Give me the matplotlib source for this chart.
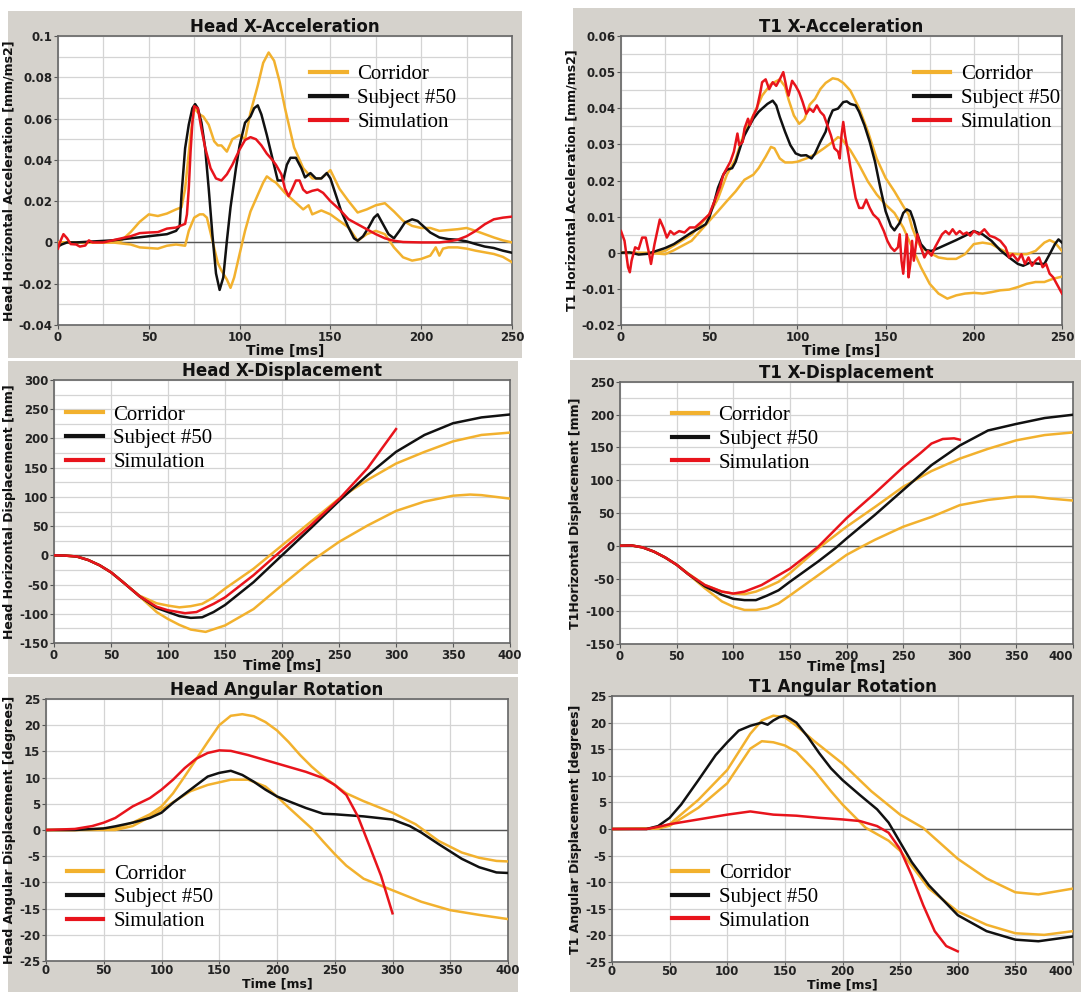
import numpy as np
import matplotlib
matplotlib.use('Agg')
import matplotlib.pyplot as plt
from matplotlib.patches import Rectangle
from matplotlib.lines import Line2D
from matplotlib.ticker import MultipleLocator, FuncFormatter

# ---------------- DATA (time [ms], value) ----------------
labels = ["Corridor", "Subject #50", "Simulation"]

# Head X-Acceleration [mm/ms2]
hxa_up = [(0,0),(10,0),(20,0),(30,0),(35,0.001),(40,0.005),(45,0.01),(50,0.0136),(55,0.0128),(60,0.014),(65,0.016),(68,0.017),(70,0.026),(73,0.052),(75,0.065),(78,0.062),(80,0.061),(83,0.057),(86,0.049),(88,0.047),(90,0.047),(93,0.044),(96,0.05),(100,0.052),(103,0.05),(106,0.063),(110,0.076),(113,0.087),(116,0.092),(119,0.088),(122,0.078),(125,0.065),(130,0.046),(135,0.036),(140,0.031),(145,0.031),(150,0.035),(155,0.026),(160,0.02),(165,0.0145),(170,0.016),(175,0.018),(180,0.019),(185,0.015),(190,0.0105),(195,0.008),(200,0.007),(205,0.007),(210,0.0056),(215,0.006),(220,0.0064),(225,0.007),(230,0.0056),(235,0.004),(240,0.0024),(245,0.001),(250,0.0)]
hxa_lo = [(0,0),(10,0),(20,0),(30,0),(40,-0.001),(45,-0.0024),(50,-0.0027),(55,-0.003),(60,-0.0016),(65,-0.001),(70,-0.0016),(72,0.0056),(75,0.012),(78,0.0136),(80,0.0136),(82,0.012),(85,0.001),(88,-0.010),(90,-0.0136),(93,-0.018),(95,-0.022),(97,-0.017),(100,-0.0056),(103,0.0056),(106,0.015),(110,0.023),(113,0.029),(115,0.032),(118,0.030),(120,0.029),(125,0.024),(130,0.02),(135,0.016),(138,0.018),(140,0.0136),(145,0.0155),(150,0.0136),(155,0.0104),(160,0.0072),(165,0.0008),(170,0.004),(175,0.0056),(180,0.004),(185,-0.0024),(190,-0.0072),(195,-0.0088),(200,-0.008),(205,-0.0064),(208,-0.0024),(210,-0.0064),(212,-0.003),(215,-0.0024),(220,-0.0024),(225,-0.003),(230,-0.004),(235,-0.0048),(240,-0.0056),(245,-0.007),(250,-0.0096)]
hxa_sub = [(0,-0.002),(2,-0.001),(5,0.0),(10,0.0),(20,0.0005),(30,0.001),(40,0.002),(50,0.003),(60,0.004),(65,0.0056),(67,0.008),(68,0.023),(70,0.0456),(72,0.057),(74,0.065),(75.5,0.067),(77,0.065),(79,0.058),(81,0.046),(83,0.026),(85,0.004),(87,-0.015),(89,-0.023),(91,-0.017),(93,0.0008),(95,0.017),(98,0.036),(100,0.047),(103,0.058),(106,0.061),(108,0.065),(110,0.0664),(112,0.062),(115,0.052),(118,0.041),(121,0.030),(124,0.030),(126,0.0376),(128,0.041),(131,0.041),(134,0.036),(136,0.0315),(139,0.0336),(142,0.031),(145,0.031),(148,0.0336),(150,0.031),(153,0.023),(156,0.015),(160,0.0072),(163,0.002),(165,0.0008),(168,0.003),(171,0.0072),(174,0.012),(176,0.0136),(179,0.0088),(182,0.004),(185,0.002),(188,0.0056),(191,0.0096),(195,0.0112),(198,0.0104),(201,0.008),(205,0.0048),(210,0.0024),(215,0.0016),(220,0.0013),(225,0.0005),(230,-0.0008),(235,-0.002),(240,-0.0027),(245,-0.004),(250,-0.005)]
hxa_sim = [(0,-0.003),(1,0.0),(3,0.004),(5,0.002),(7,-0.0008),(10,-0.001),(12,-0.002),(15,-0.0015),(17,0.001),(19,0.0),(22,0.0),(25,0.0),(30,0.001),(35,0.002),(40,0.003),(45,0.0045),(50,0.0048),(55,0.005),(60,0.0067),(65,0.0072),(70,0.009),(71,0.0136),(72,0.026),(73,0.044),(74,0.058),(75,0.066),(77,0.065),(79,0.055),(81,0.046),(84,0.036),(87,0.031),(90,0.030),(93,0.033),(96,0.0376),(100,0.045),(103,0.0496),(106,0.051),(109,0.050),(112,0.047),(115,0.043),(118,0.040),(120,0.0376),(123,0.033),(125,0.026),(127,0.0224),(129,0.026),(131,0.030),(133,0.030),(135,0.0256),(137,0.024),(140,0.025),(143,0.0256),(146,0.024),(150,0.02),(155,0.016),(160,0.0112),(165,0.0088),(170,0.0064),(175,0.004),(180,0.002),(185,0.0008),(190,0.0002),(200,0.0),(210,0.0),(215,0.0005),(220,0.0013),(225,0.003),(230,0.0056),(235,0.0088),(240,0.0112),(245,0.012),(250,0.0125)]

# T1 X-Acceleration [mm/ms2]
t1a_up = [(0,0.0),(10,0.0),(20,0.0),(25,0.0005),(30,0.002),(40,0.005),(50,0.0106),(55,0.015),(60,0.0216),(65,0.026),(70,0.0335),(75,0.038),(80,0.0435),(85,0.0467),(90,0.048),(93,0.046),(95,0.0424),(98,0.038),(101,0.0357),(104,0.037),(107,0.041),(110,0.0426),(113,0.0453),(116,0.047),(120,0.0483),(123,0.048),(126,0.047),(130,0.0449),(135,0.040),(140,0.0335),(145,0.026),(150,0.0207),(155,0.017),(160,0.0129),(163,0.0106),(165,0.007),(168,0.0033),(170,0.0015),(175,0.0),(180,-0.0013),(185,-0.0017),(190,-0.0017),(195,-0.0004),(200,0.0024),(205,0.0028),(210,0.0024),(215,0.001),(220,-0.0002),(225,-0.0004),(230,-0.0004),(235,0.0005),(240,0.0028),(243,0.0035),(246,0.0028),(250,0.0005)]
t1a_lo = [(0,0.0),(20,-0.0002),(25,-0.0004),(30,0.0007),(40,0.0033),(50,0.0088),(55,0.0115),(60,0.0143),(65,0.017),(70,0.0202),(75,0.0216),(78,0.0234),(82,0.0266),(85,0.0293),(87,0.0289),(90,0.0261),(93,0.025),(97,0.025),(100,0.0252),(105,0.0261),(110,0.0272),(115,0.0289),(120,0.0307),(123,0.032),(125,0.0316),(130,0.0284),(135,0.0243),(140,0.0197),(145,0.0161),(150,0.0133),(155,0.011),(160,0.007),(165,0.0015),(170,-0.004),(175,-0.0086),(180,-0.0113),(185,-0.0127),(190,-0.0118),(195,-0.0113),(200,-0.0111),(205,-0.0113),(210,-0.0109),(215,-0.0104),(220,-0.0102),(225,-0.0095),(230,-0.0086),(235,-0.0081),(240,-0.0081),(245,-0.0072),(250,-0.0066)]
t1a_sub = [(0,0.0),(5,0.0001),(10,-0.0005),(15,-0.0003),(20,0.0005),(25,0.0013),(30,0.0024),(35,0.004),(40,0.0056),(45,0.007),(48,0.0079),(50,0.0097),(53,0.0143),(55,0.018),(58,0.0216),(60,0.023),(63,0.0234),(65,0.0252),(68,0.0298),(70,0.0325),(73,0.0353),(75,0.0371),(78,0.039),(80,0.0399),(83,0.0412),(86,0.0421),(88,0.0408),(90,0.0376),(93,0.0335),(96,0.0298),(99,0.0275),(102,0.0269),(105,0.027),(108,0.0261),(110,0.0275),(113,0.0307),(116,0.0335),(118,0.0371),(120,0.0394),(123,0.0399),(126,0.0417),(128,0.0419),(130,0.0412),(133,0.0408),(135,0.039),(138,0.0353),(141,0.0307),(144,0.0252),(147,0.018),(150,0.0115),(153,0.0074),(155,0.0062),(158,0.0083),(160,0.011),(162,0.012),(164,0.0115),(166,0.0088),(168,0.0051),(170,0.0024),(173,0.0007),(176,0.0005),(180,0.0013),(185,0.0024),(190,0.0035),(195,0.0047),(200,0.006),(205,0.0051),(210,0.0033),(215,0.0007),(220,-0.0013),(225,-0.0031),(228,-0.0036),(232,-0.0027),(236,-0.003),(240,-0.0031),(243,-0.0004),(246,0.0024),(248,0.0037),(250,0.0028)]
t1a_sim = [(0,0.006),(2,0.0033),(4,-0.004),(5,-0.0054),(6,-0.0022),(8,0.0015),(10,0.001),(12,0.0042),(14,0.0042),(16,-0.0004),(17,-0.0031),(19,0.0024),(21,0.007),(22,0.0092),(24,0.007),(26,0.0042),(28,0.006),(30,0.0051),(33,0.006),(36,0.0056),(39,0.007),(42,0.007),(45,0.0083),(48,0.0097),(50,0.0106),(53,0.0143),(56,0.018),(58,0.0216),(60,0.0234),(62,0.0252),(64,0.028),(66,0.033),(67,0.0298),(69,0.0307),(70,0.0344),(72,0.0371),(73,0.0353),(75,0.038),(77,0.0399),(79,0.0444),(80,0.0472),(82,0.048),(84,0.0453),(86,0.0472),(88,0.0462),(90,0.048),(92,0.050),(94,0.0453),(95,0.0435),(97,0.0476),(99,0.0462),(101,0.0444),(103,0.0417),(105,0.0385),(107,0.0399),(109,0.039),(111,0.0408),(113,0.039),(115,0.038),(117,0.0353),(119,0.0325),(121,0.0289),(123,0.028),(124,0.0261),(125,0.0325),(126,0.0362),(127,0.0325),(129,0.027),(131,0.0207),(133,0.0152),(135,0.0124),(137,0.0124),(139,0.0147),(141,0.0124),(143,0.0106),(146,0.0092),(149,0.006),(151,0.0033),(153,0.0015),(155,0.0005),(157,0.0015),(158,0.0051),(159,-0.0022),(160,-0.0058),(161,0.0),(162,0.0051),(163,-0.0068),(164,-0.0031),(165,0.0033),(166,-0.0022),(168,0.0051),(170,0.0015),(172,-0.0013),(174,0.0005),(176,-0.0008),(178,0.0015),(180,0.0033),(182,0.0051),(184,0.006),(186,0.0051),(188,0.0065),(190,0.0051),(192,0.006),(194,0.0051),(196,0.0056),(198,0.0047),(200,0.006),(203,0.0051),(206,0.0065),(209,0.0047),(212,0.0042),(215,0.0033),(218,0.0015),(220,-0.0013),(222,-0.0004),(225,-0.0022),(227,-0.0004),(229,-0.0031),(231,-0.0013),(233,-0.0036),(235,-0.0022),(237,-0.0013),(239,-0.004),(241,-0.0031),(243,-0.0058),(245,-0.0068),(247,-0.0086),(248,-0.0095),(250,-0.0113)]

# Head X-Displacement [mm]
hxd_up = [(0,0),(10,-0.5),(20,-2),(30,-8),(40,-17),(50,-29),(60,-45),(75,-69),(90,-82),(100,-86),(110,-89),(120,-87),(130,-83),(140,-72),(150,-57),(175,-23),(200,17),(225,57),(250,97),(275,129),(300,157),(325,177),(350,195),(375,206),(400,210)]
hxd_lo = [(0,0),(10,-0.5),(20,-2),(30,-8),(40,-17),(50,-29),(60,-45),(75,-70),(90,-97),(100,-109),(110,-119),(120,-127),(133,-131),(150,-120),(175,-92),(200,-51),(225,-11),(250,23),(275,51),(300,76),(325,92),(350,102),(365,104),(375,103),(400,97)]
hxd_sub = [(0,0),(10,-0.5),(20,-2),(30,-8),(40,-17),(50,-29),(60,-45),(75,-70),(90,-90),(100,-97),(110,-104),(120,-107),(130,-106),(140,-97),(150,-85),(175,-46),(200,0),(225,46),(250,93),(275,137),(300,177),(325,206),(350,226),(375,236),(400,241)]
hxd_sim = [(0,0),(10,-0.5),(20,-2),(30,-8),(40,-17),(50,-29),(60,-45),(75,-70),(90,-88),(100,-94),(115,-99),(125,-97),(140,-83),(150,-72),(175,-34),(200,9),(225,51),(250,96),(275,149),(300,216)]

# T1 X-Displacement [mm]
t1d_up = [(0,0),(10,0.5),(20,-2.5),(30,-9),(40,-18),(50,-29),(60,-42),(75,-60),(90,-70),(100,-73),(110,-74),(120,-70),(130,-63),(140,-55),(150,-42),(175,-4),(200,29),(225,59),(250,90),(275,114),(300,133),(325,148),(350,161),(375,169),(400,173)]
t1d_lo = [(0,0),(10,0.5),(20,-2.5),(30,-9),(40,-18),(50,-29),(60,-43),(75,-65),(90,-85),(100,-93),(110,-98),(120,-98),(130,-95),(140,-88),(150,-76),(175,-45),(200,-14),(215,0),(225,9),(250,29),(275,44),(300,62),(325,70),(350,75),(365,75),(380,72),(400,69)]
t1d_sub = [(0,0),(10,0.5),(20,-2.5),(30,-9),(40,-18),(50,-29),(60,-43),(75,-62),(90,-75),(100,-81),(110,-83),(120,-83),(130,-76),(140,-68),(150,-55),(175,-24),(190,-4),(200,11),(225,47),(250,85),(275,123),(300,153),(325,176),(350,186),(375,195),(400,200)]
t1d_sim = [(0,0),(10,0.5),(20,-2.5),(30,-9),(40,-18),(50,-29),(60,-43),(75,-60),(90,-70),(100,-73),(110,-70),(125,-60),(150,-35),(175,-1.5),(200,42),(225,80),(250,120),(265,141),(275,156),(285,163),(295,164),(300,162)]

# Head Angular Rotation [degrees]
har_up = [(0,0),(25,0),(50,0.25),(60,0.3),(75,1.4),(90,3.0),(100,4.5),(110,7.0),(120,10.2),(130,13.5),(140,16.8),(150,20),(160,21.8),(170,22.1),(180,21.7),(190,20.6),(200,19),(210,16.8),(220,14.3),(230,12.1),(240,10.2),(250,8.6),(260,7.0),(275,5.5),(300,3.3),(320,1.1),(340,-2.1),(360,-4.3),(375,-5.3),(390,-5.9),(400,-6.0)]
har_lo = [(0,0),(25,0),(60,0),(75,0.75),(90,2.5),(100,3.9),(110,5.3),(125,7.4),(140,8.6),(160,9.6),(175,9.6),(190,8.3),(200,6.4),(210,4.3),(220,2.3),(230,0.3),(240,-2.2),(250,-4.6),(260,-6.8),(275,-9.3),(300,-11.5),(325,-13.7),(350,-15.3),(375,-16.2),(400,-17)]
har_sub = [(0,0),(25,0),(50,0.3),(60,0.7),(75,1.4),(90,2.3),(100,3.3),(110,5.2),(125,7.7),(140,10.2),(150,10.9),(160,11.3),(170,10.5),(180,9.2),(190,7.7),(200,6.4),(210,5.5),(225,4.2),(240,3.1),(250,3.0),(275,2.6),(300,2.0),(315,0.75),(325,-0.5),(340,-2.7),(360,-5.5),(375,-7.1),(390,-8.1),(400,-8.2)]
har_sim = [(0,0),(25,0.2),(40,0.75),(50,1.4),(60,2.3),(75,4.5),(90,6.1),(100,7.7),(110,9.6),(120,11.8),(130,13.6),(140,14.7),(150,15.2),(160,15.1),(175,14.3),(200,12.7),(225,11.1),(240,9.9),(250,8.6),(260,6.7),(270,2.6),(280,-3.0),(290,-8.7),(300,-15.9)]

# T1 Angular Rotation [degrees]
t1r_up = [(0,0),(40,0.1),(50,0.9),(75,5.5),(100,11.1),(110,14.5),(120,17.9),(130,20.4),(140,21.3),(150,21),(160,19.4),(175,16.6),(200,12.3),(225,7.1),(250,2.7),(270,0.2),(300,-5.6),(325,-9.3),(350,-11.9),(370,-12.3),(400,-11.2)]
t1r_lo = [(0,0),(40,0.1),(50,0.6),(75,4),(100,8.6),(120,15.1),(130,16.5),(140,16.3),(150,15.7),(160,14.5),(175,11.1),(190,7.1),(200,4.6),(220,0.25),(240,-2.2),(250,-4.1),(260,-6.9),(275,-11.2),(300,-15.5),(325,-18),(350,-19.6),(375,-19.9),(400,-19.2)]
t1r_sub = [(0,0),(30,0),(40,0.55),(50,2.1),(60,4.6),(75,9.2),(90,13.9),(100,16.3),(110,18.5),(120,19.4),(130,20.0),(135,19.6),(140,20.4),(145,21),(150,21.3),(155,20.7),(160,20),(170,17.3),(180,14.2),(190,11.4),(200,9.2),(215,6.4),(230,3.7),(240,1.2),(250,-2.5),(260,-6.2),(275,-10.6),(300,-16.2),(325,-19.2),(350,-20.8),(370,-21.1),(400,-20.2)]
t1r_sim = [(0,0),(30,0),(40,0.4),(50,0.9),(75,1.8),(100,2.7),(120,3.3),(140,2.7),(160,2.5),(180,2.1),(200,1.8),(215,1.5),(230,0.55),(240,-0.7),(250,-3.8),(260,-8.7),(270,-14.3),(280,-19.2),(290,-22),(300,-23)]

# ---------------- STYLE / LAYOUT ----------------
W, H = 1081, 992
GRAY = '#d5d2cc'
C_COR = '#f2b12e'
C_SUB = '#111111'
C_SIM = '#e8141c'

plt.rcParams['font.family'] = ['DejaVu Sans']
plt.rcParams['font.weight'] = 'bold'

fig = plt.figure(figsize=(W / 100, H / 100), dpi=100)
fig.patch.set_facecolor('white')


def frac(x0, y0, x1, y1):
    return [x0 / W, 1 - y1 / H, (x1 - x0) / W, (y1 - y0) / H]


panels = [
    dict(title='Head X-Acceleration', ylabel='Head Horizontal Acceleration [mm/ms2]',
         series=(hxa_up, hxa_lo, hxa_sub, hxa_sim), xlim=(0, 250), ylim=(-0.04, 0.1),
         xmaj=50, xmin=25, ymaj=0.02, ymin=0.01, row=0, edge=False,
         gray=(8, 11, 522, 358), ax=(58, 36, 512, 325), leg=(0.556, 0.9)),
    dict(title='T1 X-Acceleration', ylabel='T1 Horizontal Acceleration [mm/ms2]',
         series=(t1a_up, t1a_lo, t1a_sub, t1a_sim), xlim=(0, 250), ylim=(-0.02, 0.06),
         xmaj=50, xmin=25, ymaj=0.01, ymin=0.005, row=0, edge=False,
         gray=(573, 8, 1075, 358), ax=(621, 36, 1062, 325), leg=(0.664, 0.9)),
    dict(title='Head X-Displacement', ylabel='Head Horizontal Displacement [mm]',
         series=(hxd_up, hxd_lo, hxd_sub, hxd_sim), xlim=(0, 400), ylim=(-150, 300),
         xmaj=50, xmin=None, ymaj=50, ymin=25, row=1, edge=False,
         gray=(8, 361, 518, 674), ax=(54, 380, 510, 643), leg=(0.027, 0.905)),
    dict(title='T1 X-Displacement', ylabel='T1Horizontal Displacement [mm]',
         series=(t1d_up, t1d_lo, t1d_sub, t1d_sim), xlim=(0, 400), ylim=(-150, 250),
         xmaj=50, xmin=None, ymaj=50, ymin=25, row=1, edge=True,
         gray=(570, 360, 1081, 675), ax=(620, 382, 1073, 644), leg=(0.114, 0.91)),
    dict(title='Head Angular Rotation', ylabel='Head Angular Displacement [degrees]',
         series=(har_up, har_lo, har_sub, har_sim), xlim=(0, 400), ylim=(-25, 25),
         xmaj=50, xmin=None, ymaj=5, ymin=None, row=2, edge=False,
         gray=(8, 677, 518, 992), ax=(46, 699, 508, 961), leg=(0.045, 0.37)),
    dict(title='T1 Angular Rotation', ylabel='T1 Angular Displacement [degrees]',
         series=(t1r_up, t1r_lo, t1r_sub, t1r_sim), xlim=(0, 400), ylim=(-25, 25),
         xmaj=50, xmin=None, ymaj=5, ymin=None, row=2, edge=True,
         gray=(570, 675, 1081, 992), ax=(612, 696, 1073, 962), leg=(0.13, 0.37)),
]

fmt = FuncFormatter(lambda v, p: '%g' % (round(v, 6) + 0.0))
axes_list = []

for p in panels:
    gx0, gy0, gx1, gy1 = p['gray']
    fig.add_artist(Rectangle((gx0 / W, 1 - gy1 / H), (gx1 - gx0) / W, (gy1 - gy0) / H,
                             transform=fig.transFigure, facecolor=GRAY, edgecolor='none', zorder=0))
    ax = fig.add_axes(frac(*p['ax']))
    axes_list.append(ax)
    ax.set_facecolor('white')
    ax.set_zorder(1)
    up, lo, sub, sim = p['series']
    for s, c, z in ((up, C_COR, 3), (lo, C_COR, 3), (sub, C_SUB, 4), (sim, C_SIM, 5)):
        t, v = zip(*s)
        ax.plot(t, v, color=c, lw=1.8, zorder=z, solid_joinstyle='round')
    ax.axhline(0, color='#555555', lw=1.0, zorder=2)
    ax.set_xlim(*p['xlim'])
    ax.set_ylim(*p['ylim'])
    ax.xaxis.set_major_locator(MultipleLocator(p['xmaj']))
    ax.yaxis.set_major_locator(MultipleLocator(p['ymaj']))
    if p['xmin']:
        ax.xaxis.set_minor_locator(MultipleLocator(p['xmin']))
    if p['ymin']:
        ax.yaxis.set_minor_locator(MultipleLocator(p['ymin']))
    ax.yaxis.set_major_formatter(fmt)
    ax.grid(True, which='both', color='#d4d4d4', lw=0.9, zorder=0)
    ax.set_axisbelow(True)
    ax.tick_params(which='major', direction='out', length=3, width=0.8, color='#555555',
                   labelsize=8.5, labelcolor='#222222', pad=1)
    if p['row'] == 2:
        ax.tick_params(axis='x', which='major', length=2.5, pad=0)
    ax.tick_params(which='minor', length=0)
    for sp in ax.spines.values():
        sp.set_color('#666666')
        sp.set_linewidth(1.2)
    ax.set_title(p['title'], fontsize=12, fontweight='bold', pad=3, color='#111111')
    if p['row'] == 2:
        ax.set_xlabel('Time [ms]', fontsize=9, fontweight='bold', labelpad=0, color='#111111')
    elif p['row'] == 1:
        ax.set_xlabel('Time [ms]', fontsize=10, fontweight='bold', labelpad=-1.5, color='#111111')
    else:
        ax.set_xlabel('Time [ms]', fontsize=10, fontweight='bold', labelpad=0, color='#111111')
    ax.set_ylabel(p['ylabel'], fontsize=9, fontweight='bold', labelpad=2, color='#111111')
    handles = [Line2D([], [], color=C_COR, lw=3), Line2D([], [], color=C_SUB, lw=3),
               Line2D([], [], color=C_SIM, lw=3)]
    ax.legend(handles, labels, loc='upper left', bbox_to_anchor=p['leg'], frameon=False,
              prop=dict(family='Liberation Serif', size=15, weight='normal'),
              handlelength=1.75, handletextpad=0.5, labelspacing=0.2,
              borderpad=0, borderaxespad=0)

# keep the right-most tick label of the right column inside the figure
fig.canvas.draw()
for p, ax in zip(panels, axes_list):
    if p['edge']:
        for tick in ax.xaxis.get_major_ticks():
            if abs(tick.get_loc() - p['xlim'][1]) < 1e-9:
                tick.label1.set_horizontalalignment('right')
                tick.label1.set_x(tick.get_loc())

fig.savefig('out.png', dpi=100, facecolor='white')
